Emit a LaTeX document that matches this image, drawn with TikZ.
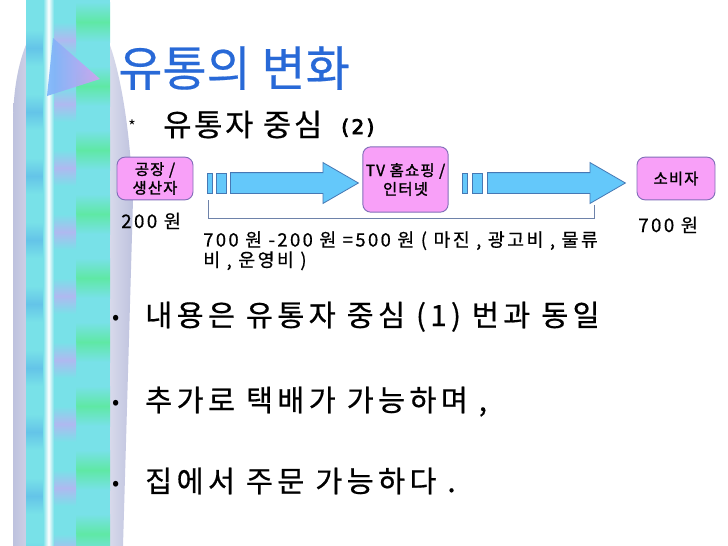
\documentclass[tikz,border=0pt]{standalone}
\usepackage{fontspec}
\setmainfont{Noto Sans CJK KR}
\newfontfamily\kortitle{Noto Sans CJK KR}[FakeBold=0.4]
\newfontfamily\korsub{Noto Sans CJK KR}[LetterSpace=9,FakeBold=0.6]
\newfontfamily\korwide{Noto Sans CJK KR}[LetterSpace=15,FakeBold=0.6]
\newfontfamily\korlabel{Noto Sans CJK KR}[LetterSpace=13,FakeBold=0.6]
\newfontfamily\korbox{Noto Sans CJK KR}[LetterSpace=8,FakeBold=1.6]
\newfontfamily\heavyfont{DejaVu Sans}[LetterSpace=12,FakeBold=4]
\usepackage{tikz}
\usetikzlibrary{positioning,shapes.arrows}

\definecolor{titleblue}{RGB}{40,105,215}
\definecolor{boxpink}{RGB}{248,160,248}
\definecolor{boxline}{RGB}{130,110,185}
\definecolor{arrfill}{RGB}{100,200,250}
\definecolor{arrline}{RGB}{70,120,180}
\definecolor{bracketline}{RGB}{110,130,170}
\definecolor{barcyan}{RGB}{120,225,232}
\definecolor{bargreen}{RGB}{95,232,165}
\definecolor{barlav}{RGB}{175,185,240}
\definecolor{barblue}{RGB}{100,196,232}
\definecolor{pillar}{RGB}{190,194,222}

\begin{document}
\begin{tikzpicture}[
  x=0.75pt,y=-0.75pt,
  box/.style={rectangle,draw=boxline,fill=boxpink,rounded corners=6pt,align=center,inner sep=1pt,line width=0.7pt,font=\korbox\fontsize{11.5}{14}\selectfont},
  blockarr/.style={single arrow,draw=arrline,fill=arrfill,line width=0.6pt,inner xsep=0pt,inner ysep=7.5pt,single arrow head extend=7.5pt,single arrow tip angle=60,anchor=tail},
  stripe/.style={draw=arrline,fill=arrfill,line width=0.6pt},
  lbl/.style={inner sep=0pt,anchor=base west,font=\korlabel\fontsize{14}{16}\selectfont},
  item/.style={inner sep=0pt,anchor=base west,font=\korwide\fontsize{22}{26}\selectfont},
  dot/.style={inner sep=0pt,font=\fontsize{16}{16}\selectfont}
]
\useasboundingbox (0,0) rectangle (728,546);
\fill[white] (0,0) rectangle (728,546);

% decorative bar on the left
\shade[left color=pillar,right color=pillar,middle color=white]
  (13,546) -- (13,125) .. controls (13,85) and (20,58) .. (28,40)
  -- (108,40) .. controls (118,65) and (130,120) .. (133,200) -- (123,546) -- cycle;
\fill[barcyan] (26,0) rectangle (110,546);
\foreach \y in {0,64,...,512} {
  \shade[top color=barcyan,bottom color=barcyan,middle color=bargreen] (76,\y+2) rectangle (110,\y+42);
  \shade[top color=barcyan,bottom color=barcyan,middle color=barlav] (54,\y+22) rectangle (76,\y+58);
  \shade[top color=barcyan,bottom color=barcyan,middle color=barblue] (26,\y+30) rectangle (44,\y+66);
}
\shade[left color=barcyan,right color=barcyan,middle color=white] (43,0) rectangle (54,546);
\shade[left color={rgb,255:red,120;green,180;blue,250},right color={rgb,255:red,215;green,160;blue,240},opacity=0.9] (53,38) -- (47,96) -- (100,79) -- cycle;

% title and heading
\node[inner sep=0pt,anchor=base west,text=titleblue,font=\kortitle\fontsize{36}{40}\selectfont] (title) at (118,86) {유통의 변화};
\node[inner sep=0pt,font=\fontsize{12}{12}\selectfont] (star) at (132,126) {*};
\node[inner sep=0pt,anchor=base west,font=\korsub\fontsize{23}{26}\selectfont] (sub) at (163,136) {유통자 중심};
\node[inner sep=0pt,anchor=base west,font=\heavyfont\fontsize{15}{16}\selectfont] (subnum) at (341,134) {(2)};

% flow
\node[box,minimum width=57pt,minimum height=32pt] (maker) at (155,178.5) {공장 /\\생산자};
\node[box,minimum width=64pt,minimum height=49pt] (tv) at (405.5,179.5) {\makebox[30pt]{TV 홈쇼핑 /}\\인터넷};
\node[box,minimum width=58.5pt,minimum height=32pt] (buyer) at (676,178.5) {소비자};

\filldraw[stripe] (207,173) rectangle (212,193);
\filldraw[stripe] (216,173) rectangle (226,193);
\node[blockarr,minimum height=96pt] (arr1) at (230,183) {};
\filldraw[stripe] (462,173) rectangle (467,193);
\filldraw[stripe] (472,173) rectangle (482,193);
\node[blockarr,minimum height=103.5pt] (arr2) at (487,183) {};

% price bracket
\coordinate (bl) at (208,200);
\coordinate (br) at (594,205);
\draw[bracketline,line width=0.6pt] (bl) -- (208,218) -- (594,218) -- (br);

\node[lbl] (p200) at (121,228) {200 원};
\node[lbl] (p700) at (638,232) {700 원};
\node[inner sep=0pt,anchor=north west,align=left,font=\korlabel\fontsize{13.8}{14}\selectfont] (margin) at (203,231)
  {700 원 -200 원 =500 원 ( 마진 , 광고비 , 물류\\비 , 운영비 )};

% bullet list
\node[dot] (b1) at (116,320) {•};
\node[item] (i1) at (145,326) {내용은 유통자 중심 (1) 번과 동일};
\node[dot] (b2) at (116,405) {•};
\node[item] (i2) at (145,411) {추가로 택배가 가능하며 ,};
\node[dot] (b3) at (116,486) {•};
\node[item] (i3) at (145,492) {집에서 주문 가능하다 .};
\end{tikzpicture}
\end{document}
